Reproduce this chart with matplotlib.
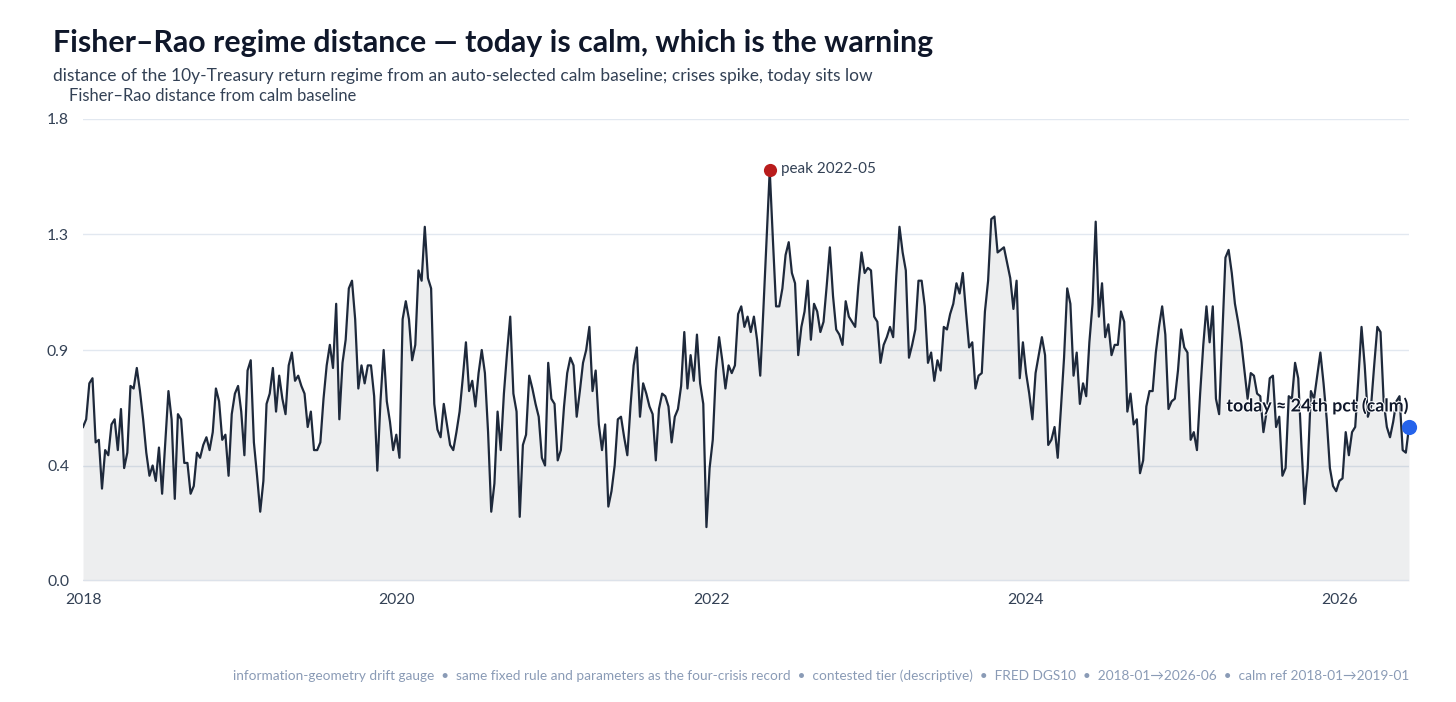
import matplotlib
matplotlib.use('Agg')
import matplotlib.pyplot as plt
import matplotlib.dates as mdates
import matplotlib.patheffects as pe
import pandas as pd

plt.rcParams['font.family'] = ['Lato', 'DejaVu Sans']

# Fisher-Rao distance, roughly weekly
dist_2018_2020 = [
	0.60, 0.63, 0.77, 0.79, 0.54, 0.55, 0.36, 0.51, 0.49, 0.61,
	0.63, 0.51, 0.67, 0.44, 0.50, 0.76, 0.75, 0.83, 0.74, 0.63,
	0.50, 0.41, 0.45, 0.39, 0.52, 0.34, 0.54, 0.74, 0.63, 0.32,
	0.65, 0.63, 0.46, 0.46, 0.34, 0.37, 0.50, 0.48, 0.53, 0.56,
	0.51, 0.58, 0.75, 0.70, 0.55, 0.57, 0.41, 0.65, 0.73, 0.76,
	0.66, 0.49, 0.82, 0.86, 0.54, 0.41, 0.27, 0.39, 0.69, 0.73,
	0.83, 0.66, 0.80, 0.71, 0.65, 0.84, 0.89, 0.78, 0.80, 0.76,
	0.73, 0.60, 0.66, 0.51, 0.51, 0.54, 0.71, 0.84, 0.92, 0.83,
	1.08, 0.63, 0.85, 0.94, 1.14, 1.17, 1.02, 0.75, 0.84, 0.77,
	0.84, 0.84, 0.72, 0.43, 0.70, 0.90, 0.70, 0.62, 0.51, 0.57,
	0.48, 1.02, 1.09, 1.02, 0.86, 0.92, 1.21, 1.17, 1.38, 1.18,
	1.14, 0.69, 0.59, 0.56, 0.69, 0.61, 0.53, 0.51, 0.58, 0.66,
	0.79, 0.93, 0.74, 0.78, 0.68, 0.81, 0.90, 0.81, 0.58, 0.27,
	0.38, 0.66,
]
dist_2020_2023 = [
	0.51, 0.73, 0.89, 1.03, 0.73, 0.66, 0.25, 0.53, 0.57, 0.80,
	0.75, 0.69, 0.64, 0.48, 0.45, 0.85, 0.71, 0.69, 0.47, 0.51,
	0.68, 0.81, 0.87, 0.84, 0.64, 0.74, 0.85, 0.90, 0.99, 0.74,
	0.82, 0.61, 0.51, 0.61, 0.29, 0.35, 0.45, 0.63, 0.64, 0.56,
	0.49, 0.68, 0.84, 0.91, 0.64, 0.77, 0.73, 0.68, 0.65, 0.47,
	0.67, 0.73, 0.72, 0.68, 0.54, 0.64, 0.67, 0.76, 0.97, 0.75,
	0.88, 0.78, 0.96, 0.77, 0.69, 0.21, 0.44, 0.55, 0.82, 0.95,
	0.86, 0.75, 0.84, 0.81, 0.84, 1.04, 1.07, 0.99, 1.03, 0.97,
	1.03, 0.94, 0.80, 1.06, 1.33, 1.60, 1.33, 1.07, 1.07, 1.14,
	1.27, 1.32, 1.20, 1.16, 0.88, 0.99, 1.05, 1.17, 0.94, 1.08,
	1.05, 0.97, 1.01, 1.15, 1.30, 1.11, 0.98, 0.96, 0.92, 1.09,
	1.03, 1.01, 0.99, 1.15, 1.28, 1.20, 1.22, 1.21, 1.03, 1.01,
	0.85, 0.92, 0.95, 0.99, 0.95, 1.19, 1.38, 1.28, 1.21, 0.87,
	0.92, 0.98, 1.17, 1.17, 1.07, 0.85, 0.89, 0.78, 0.86, 0.82,
	0.99, 0.98, 1.04, 1.08, 1.16, 1.12, 1.20, 1.05, 0.91, 0.93,
	0.75, 0.80,
]
dist_2023_2026 = [
	0.81, 1.05, 1.17, 1.41, 1.42, 1.28, 1.29, 1.30, 1.24, 1.18,
	1.06, 1.17, 0.79, 0.93, 0.81, 0.73, 0.63, 0.81, 0.88, 0.95,
	0.88, 0.53, 0.55, 0.60, 0.48, 0.67, 0.87, 1.14, 1.08, 0.80,
	0.89, 0.69, 0.77, 0.72, 0.93, 1.08, 1.40, 1.03, 1.16, 0.95,
	1.00, 0.88, 0.92, 0.92, 1.05, 1.01, 0.66, 0.73, 0.61, 0.63,
	0.42, 0.47, 0.68, 0.74, 0.74, 0.89, 0.99, 1.07, 0.96, 0.67,
	0.70, 0.71, 0.82, 0.98, 0.91, 0.89, 0.55, 0.58, 0.51, 0.73,
	0.92, 1.07, 0.93, 1.07, 0.71, 0.65, 0.95, 1.26, 1.29, 1.20,
	1.08, 1.01, 0.93, 0.82, 0.71, 0.81, 0.80, 0.73, 0.72, 0.58,
	0.66, 0.79, 0.80, 0.60, 0.64, 0.41, 0.44, 0.72, 0.71, 0.85,
	0.79, 0.53, 0.30, 0.44, 0.74, 0.71, 0.80, 0.89, 0.77, 0.63,
	0.44, 0.37, 0.35, 0.39, 0.40, 0.58, 0.49, 0.58, 0.60, 0.79,
	0.99, 0.84, 0.64, 0.68, 0.84, 0.99, 0.97, 0.70, 0.60, 0.56,
	0.62, 0.70, 0.72, 0.51, 0.50, 0.60,
]
start_date = '2018-01-01'
end_date = '2026-06-12'

y_ticks = [0.0, 0.45, 0.9, 1.35, 1.8]
y_ticklabels = ['0.0', '0.4', '0.9', '1.3', '1.8']
x_tick_years = [2018, 2020, 2022, 2024, 2026]

peak_label = 'peak 2022-05'
today_label = 'today \u2248 24th pct (calm)'

title = 'Fisher\u2013Rao regime distance \u2014 today is calm, which is the warning'
subtitle = ('distance of the 10y-Treasury return regime from an auto-selected calm baseline; '
	'crises spike, today sits low')
y_title = 'Fisher\u2013Rao distance from calm baseline'
footer = ('information-geometry drift gauge  \u2022  same fixed rule and parameters as the four-crisis record'
	'  \u2022  contested tier (descriptive)  \u2022  FRED DGS10  \u2022  2018-01\u21922026-06'
	'  \u2022  calm ref 2018-01\u21922019-01')

values = dist_2018_2020 + dist_2020_2023 + dist_2023_2026
dates = pd.date_range(start_date, end_date, periods=len(values))
series = pd.Series(values, index=dates)

fig = plt.figure(figsize=(14.56, 7.02), dpi=100)
ax = fig.add_axes([83/1456, 121/702, 1326/1456, 462/702])

line_col = '#1e293b'
ax.fill_between(series.index, 0, series.values, color=line_col, alpha=0.08, lw=0, zorder=1)
ax.plot(series.index, series.values, color=line_col, lw=1.6, zorder=3)

# peak marker
peak_t = series.idxmax()
ax.scatter([peak_t], [series.max()], s=90, color='#b91c1c', zorder=5, linewidths=0)
ax.annotate(peak_label, (peak_t, series.max()), xytext=(8, 1), textcoords='offset points',
	ha='left', va='center', fontsize=11, color='#334155', zorder=6)

# today marker
today_t = series.index[-1]
ax.scatter([today_t], [series.iloc[-1]], s=120, color='#2563eb', zorder=5, linewidths=0, clip_on=False)
ax.annotate(today_label, (today_t, series.iloc[-1]), xytext=(0, 9), textcoords='offset points',
	ha='right', va='bottom', fontsize=12.8, fontweight='bold', color='#0f172a', zorder=6,
	path_effects=[pe.withStroke(linewidth=1.5, foreground='white')])

ax.set_xlim(series.index[0], series.index[-1])
ax.set_ylim(0, 1.8)
ax.set_yticks(y_ticks)
ax.set_yticklabels(y_ticklabels)
ax.set_xticks([pd.Timestamp(f'{y}-01-01') for y in x_tick_years])
ax.xaxis.set_major_formatter(mdates.DateFormatter('%Y'))
ax.tick_params(length=0, labelsize=11.3, labelcolor='#334155')
ax.tick_params(axis='y', pad=10)
ax.tick_params(axis='x', pad=9)
for sp in ax.spines.values():
	sp.set_visible(False)
for t in y_ticks[1:]:
	ax.axhline(t, color='#e2e8f0', lw=1, zorder=0)
ax.axhline(0, color='#dde2ea', lw=2.5, zorder=2)

fig.text(53/1456, 1 - 43/702, title, fontsize=21.8, fontweight='bold', color='#0f172a', va='center')
fig.text(53/1456, 1 - 76/702, subtitle, fontsize=12.5, color='#334155', va='center')
fig.text(69/1456, 1 - 96/702, y_title, fontsize=11.9, color='#334155', va='center')
fig.text(1409/1456, 1 - 676/702, footer, fontsize=9.85, color='#8a9bb6', va='center', ha='right')

fig.savefig('out.png', dpi=100)
